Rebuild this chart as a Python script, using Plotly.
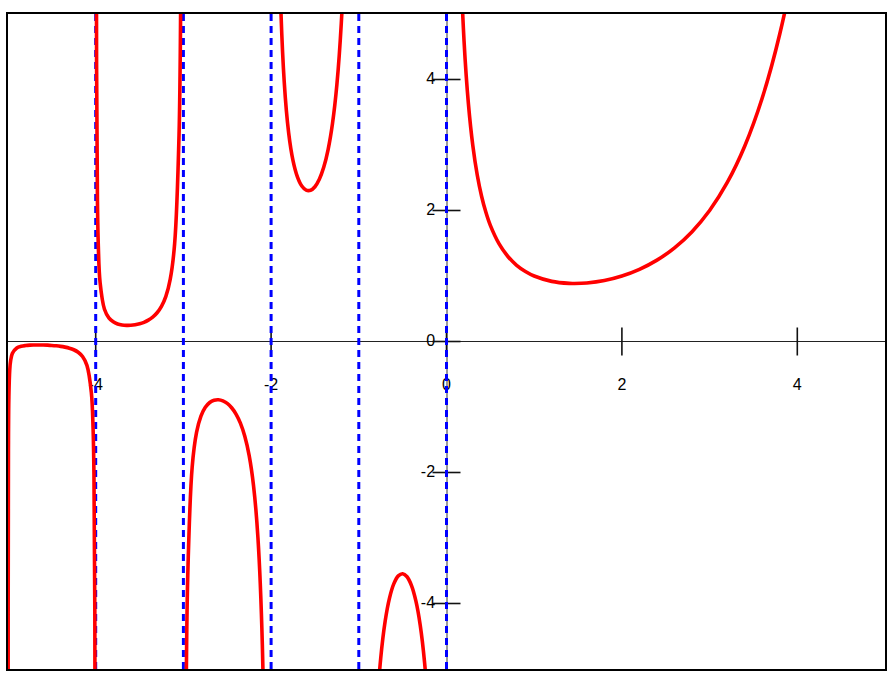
import plotly.graph_objects as go

# values, one list pair per branch of the curve
x_b1 = [-4.9995, -4.999, -4.998, -4.995, -4.99, -4.98, -4.97, -4.95, -4.9, -4.85, -4.8,
        -4.75, -4.7, -4.65, -4.6, -4.55, -4.5, -4.45, -4.4, -4.35, -4.3, -4.25, -4.2,
        -4.15, -4.1, -4.05, -4.03, -4.02, -4.01, -4.005, -4.002]
y_b1 = [-16.7, -8.33, -4.17, -1.67, -0.848, -0.431, -0.293, -0.182, -0.100, -0.074, -0.062,
        -0.056, -0.054, -0.053, -0.054, -0.056, -0.060, -0.066, -0.074, -0.086, -0.102,
        -0.126, -0.164, -0.229, -0.364, -0.776, -1.328, -2.022, -4.105, -8.3, -20.8]

x_b2 = [-3.998, -3.995, -3.99, -3.98, -3.97, -3.95, -3.9, -3.85, -3.8, -3.75, -3.7,
        -3.65, -3.6, -3.55, -3.5, -3.45, -3.4, -3.35, -3.3, -3.25, -3.2, -3.15, -3.1,
        -3.05, -3.03, -3.02, -3.01, -3.005, -3.002]
y_b2 = [20.8, 8.33, 4.23, 2.148, 1.455, 0.902, 0.492, 0.361, 0.300, 0.268, 0.252,
        0.246, 0.247, 0.255, 0.270, 0.293, 0.326, 0.372, 0.439, 0.536, 0.689, 0.952,
        1.492, 3.143, 5.353, 8.13, 16.46, 33.2, 83.0]

x_b3 = [-2.998, -2.995, -2.99, -2.97, -2.95, -2.9, -2.85, -2.8, -2.75, -2.7, -2.65,
        -2.6, -2.55, -2.5, -2.45, -2.4, -2.35, -2.3, -2.25, -2.2, -2.15, -2.1, -2.05,
        -2.03, -2.01, -2.005]
y_b3 = [-83.0, -33.2, -16.88, -5.777, -3.563, -1.918, -1.388, -1.139, -1.004, -0.931,
        -0.896, -0.889, -0.906, -0.945, -1.011, -1.108, -1.247, -1.447, -1.743, -2.205,
        -3.0, -4.626, -9.585, -16.22, -49.6, -99.6]

x_b4 = [-1.995, -1.99, -1.97, -1.95, -1.9, -1.85, -1.8, -1.75, -1.7, -1.65, -1.6,
        -1.55, -1.5, -1.45, -1.4, -1.35, -1.3, -1.25, -1.2, -1.15, -1.1, -1.05, -1.03,
        -1.01]
y_b4 = [100.0, 50.47, 17.16, 10.51, 5.563, 3.956, 3.188, 2.762, 2.514, 2.374, 2.311,
        2.309, 2.363, 2.477, 2.659, 2.931, 3.328, 3.921, 4.851, 6.45, 9.715, 19.65, 32.93,
        99.6]

x_b5 = [-0.99, -0.97, -0.95, -0.9, -0.85, -0.8, -0.75, -0.7, -0.65, -0.6, -0.55, -0.5,
        -0.45, -0.4, -0.35, -0.3, -0.25, -0.2, -0.15, -0.1, -0.05, -0.03, -0.01]
y_b5 = [-100.4, -33.8, -20.49, -10.57, -7.318, -5.739, -4.834, -4.274, -3.917, -3.697,
        -3.578, -3.545, -3.591, -3.723, -3.957, -4.327, -4.902, -5.821, -7.417, -10.686,
        -20.63, -33.92, -100.6]

x_b6 = [0.01, 0.03, 0.05, 0.1, 0.12, 0.15, 0.2, 0.25, 0.3, 0.35, 0.4, 0.45, 0.5, 0.6,
        0.7, 0.8, 0.9, 1.0, 1.2, 1.4, 1.46, 1.6, 1.8, 2.0, 2.2, 2.4, 2.6, 2.8, 3.0, 3.2,
        3.4, 3.6, 3.8, 4.0, 4.2]
y_b6 = [99.43, 32.79, 19.47, 9.514, 7.87, 6.22, 4.591, 3.626, 2.992, 2.546, 2.218, 1.968,
        1.772, 1.489, 1.298, 1.164, 1.069, 1.0, 0.918, 0.887, 0.886, 0.894, 0.931, 1.0,
        1.102, 1.242, 1.430, 1.677, 2.0, 2.424, 2.981, 3.717, 4.694, 6.0, 7.757]

branches = [(x_b1, y_b1), (x_b2, y_b2), (x_b3, y_b3), (x_b4, y_b4), (x_b5, y_b5), (x_b6, y_b6)]
poles = [-4, -3, -2, -1, 0]
x_range = [-5, 5]
y_range = [-5, 5]
x_ticks = [-4, -2, 0, 2, 4]
y_ticks = [-4, -2, 0, 2, 4]
x_ticklabels = ["-4", "-2", "0", "2", "4"]
y_ticklabels = ["-4", "-2", "0", "2", "4"]

font = dict(family="Liberation Sans, Arial, sans-serif", size=16, color="black")

fig = go.Figure()

# tick labels first so the curves are drawn over them
fig.add_trace(go.Scatter(x=x_ticks, y=[-0.68] * len(x_ticks), mode="text",
                         text=x_ticklabels, textposition="middle center",
                         textfont=font, hoverinfo="skip"))
fig.add_trace(go.Scatter(x=[-0.13] * len(y_ticks), y=y_ticks, mode="text",
                         text=y_ticklabels, textposition="middle left",
                         textfont=font, hoverinfo="skip"))

# tick marks crossing the axes (line-ns length is 1.4 * size)
fig.add_trace(go.Scatter(x=x_ticks, y=[0] * len(x_ticks), mode="markers",
                         marker=dict(symbol="line-ns", size=20,
                                     line=dict(width=1.6, color="#111")),
                         hoverinfo="skip"))
fig.add_trace(go.Scatter(x=[0] * len(y_ticks), y=y_ticks, mode="markers",
                         marker=dict(symbol="line-ew", size=20,
                                     line=dict(width=1.6, color="#111")),
                         hoverinfo="skip"))

for p in poles:
    fig.add_trace(go.Scatter(x=[p, p], y=y_range, mode="lines",
                             line=dict(color="#0000ff", width=3, dash="7px,5px")))

for bx, by in branches:
    fig.add_trace(go.Scatter(x=bx, y=by, mode="lines",
                             line=dict(color="#ff0000", width=3.6, shape="spline",
                                       smoothing=1.0)))

fig.update_layout(
    width=893, height=676,
    margin=dict(l=8, r=6, t=14, b=7),
    paper_bgcolor="white", plot_bgcolor="white",
    showlegend=False,
)
fig.update_xaxes(range=x_range, showgrid=False, showticklabels=False, ticks="",
                 zeroline=True, zerolinecolor="#999", zerolinewidth=1.5,
                 showline=True, mirror=True, linecolor="black", linewidth=2)
fig.update_yaxes(range=y_range, showgrid=False, showticklabels=False, ticks="",
                 zeroline=True, zerolinecolor="#222", zerolinewidth=1.2,
                 showline=True, mirror=True, linecolor="black", linewidth=2)

# drop the default body margin so the 893x676 figure fills the window exactly
fig.write_html("out.html", config={"displayModeBar": False},
               post_script="document.body.style.margin='0';"
                           "document.body.style.overflow='hidden';")
